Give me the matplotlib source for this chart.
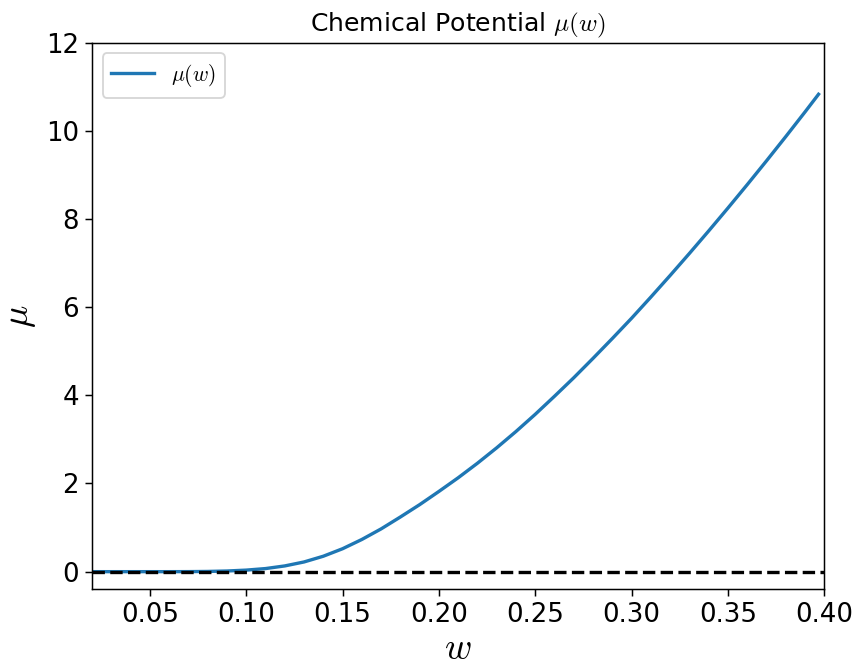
import matplotlib
matplotlib.use("Agg")
import matplotlib.pyplot as plt

plt.rcParams["mathtext.fontset"] = "cm"

# sampled chemical potential mu(w)
w = [0.020, 0.030, 0.040, 0.050, 0.060, 0.070, 0.080, 0.090, 0.100, 0.110,
     0.120, 0.130, 0.140, 0.150, 0.160, 0.170, 0.180, 0.190, 0.200, 0.210,
     0.220, 0.230, 0.240, 0.250, 0.260, 0.270, 0.280, 0.290, 0.300, 0.310,
     0.320, 0.330, 0.340, 0.350, 0.360, 0.370, 0.380, 0.390, 0.397]
mu = [0.000, 0.000, 0.000, 0.000, 0.000, 0.001, 0.005, 0.015, 0.035, 0.070,
      0.130, 0.220, 0.350, 0.520, 0.730, 0.970, 1.240, 1.520, 1.820, 2.130,
      2.460, 2.810, 3.180, 3.570, 3.980, 4.400, 4.840, 5.290, 5.750, 6.230,
      6.720, 7.220, 7.730, 8.250, 8.780, 9.320, 9.870, 10.430, 10.830]

dpi = 134
fig = plt.figure(figsize=(856 / dpi, 667 / dpi), dpi=dpi)
ax = fig.add_axes([0.1075, 0.1165, 0.8555, 0.8195])

ax.plot(w, mu, color="tab:blue", linewidth=1.8, label=r"$\mu(w)$")
ax.axhline(0, color="k", linestyle="--", linewidth=1.8)

ax.set_xlim(0.02, 0.40)
ax.set_ylim(-0.4, 12)
ax.set_xticks([0.05, 0.10, 0.15, 0.20, 0.25, 0.30, 0.35, 0.40])
ax.set_yticks([0, 2, 4, 6, 8, 10, 12])
ax.tick_params(labelsize=14)

ax.set_title(r"Chemical Potential $\mu(w)$", fontsize=13.5)
ax.set_xlabel(r"$w$", fontsize=20, labelpad=1)
ax.set_ylabel(r"$\mu$", fontsize=20)
ax.legend(loc="upper left", fontsize=11.5)

fig.savefig("out.png", dpi=dpi)
plt.close(fig)
